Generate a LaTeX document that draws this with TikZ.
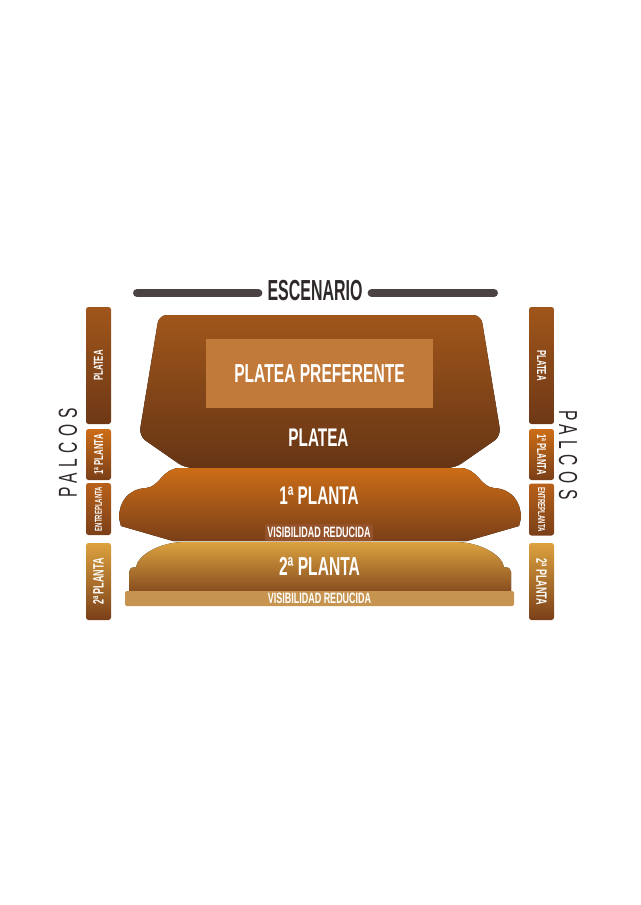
\documentclass[tikz,border=0pt]{standalone}
\usepackage{fontspec}
\usepackage{graphicx}
\newfontfamily\cond[FakeStretch=0.6]{Liberation Sans}
\newfontfamily\condesc[FakeStretch=0.55]{Liberation Sans}
\newfontfamily\palcosfont[FakeStretch=0.6,LetterSpace=21]{Liberation Sans}
\newcommand{\setsz}[1]{\fontsize{#1}{#1}\selectfont}

\definecolor{escgray}{HTML}{4B4343}
\definecolor{esctext}{HTML}{2E2828}
\definecolor{plateatop}{HTML}{A0561B}
\definecolor{plateamid}{HTML}{8A4A1A}
\definecolor{plateabot}{HTML}{663515}
\definecolor{prefcol}{HTML}{C27A3B}
\definecolor{plonetop}{HTML}{CC6D17}
\definecolor{plonemid}{HTML}{B45D18}
\definecolor{plonebot}{HTML}{7A3F18}
\definecolor{vronecol}{HTML}{94522A}
\definecolor{pltwotop}{HTML}{DCA23F}
\definecolor{pltwomid}{HTML}{CB8C35}
\definecolor{pltwobot}{HTML}{864D20}
\definecolor{vrtwocol}{HTML}{C6944F}
\definecolor{entretop}{HTML}{B8611A}
\definecolor{palcobot}{HTML}{6E3816}

\begin{document}
\begin{tikzpicture}[x=1pt, y=-1pt,
	every node/.style={font=\cond\bfseries, text=white, inner sep=0pt},
	stage/.style={line width=8pt, line cap=round, draw=escgray},
	palco/.style={rounded corners=2.5pt, minimum width=25pt},
	vrbox/.style={rounded corners=2pt, font=\cond\bfseries\setsz{15}}]
		\useasboundingbox (0,0) rectangle (640,905);
		
		\node[font=\condesc\bfseries\setsz{29}, text=esctext, inner xsep=9pt] (esc) at (315,291) {ESCENARIO};
		\coordinate (escL) at (137,293);
		\coordinate (escR) at (494,293);
		\draw[stage] (escL) -- (esc.west |- escL);
		\draw[stage] (esc.east |- escR) -- (escR);
		
		\fill[top color=plateatop, middle color=plateamid, bottom color=plateabot, rounded corners=8pt]
			(320,315) -- (481,315) -- (501,436) -- (455,468) -- (185,468) -- (139,436) -- (159,315) -- cycle;
		\node[fill=prefcol, minimum width=227pt, minimum height=69pt, font=\cond\bfseries\setsz{26}] (pref) at (319.5,373.5) {PLATEA PREFERENTE};
		\node[font=\cond\bfseries\setsz{25.5}] (platea) at (318.5,438) {PLATEA};
		
		\fill[top color=plonetop, middle color=plonemid, bottom color=plonebot]
			(320,468) -- (460,468) .. controls (478,468) and (480,487) .. (494,488)
			.. controls (512,489) and (521,502) .. (521,518) -- (519,526) -- (467,541)
			-- (173,541) -- (121,526) -- (119,518)
			.. controls (119,502) and (128,489) .. (146,488)
			.. controls (160,487) and (162,468) .. (180,468) -- cycle;
		\node[font=\cond\bfseries\setsz{25.5}] (plone) at (319,496) {1ª PLANTA};
		\node[vrbox, fill=vronecol, minimum width=108pt, minimum height=17pt] (vrone) at (319,532.5) {VISIBILIDAD REDUCIDA};
		
		\fill[top color=pltwotop, middle color=pltwomid, bottom color=pltwobot]
			(320,542) -- (455,542) .. controls (480,542) and (502,555) .. (504,567)
			-- (509,568) -- (511,572) -- (511,592) -- (129,592) -- (129,572) -- (131,568) -- (136,567)
			.. controls (138,555) and (160,542) .. (185,542) -- cycle;
		\node[font=\cond\bfseries\setsz{26}] (pltwo) at (319.5,566) {2ª PLANTA};
		\node[vrbox, fill=vrtwocol, minimum width=389pt, minimum height=15pt] (vrtwo) at (319.5,598.5) {VISIBILIDAD REDUCIDA};
		
		\node[palco, top color=plateatop, bottom color=palcobot, minimum height=117pt, font=\cond\bfseries\setsz{13}] (pLplatea) at (98.5,365.5) {\rotatebox{90}{PLATEA}};
		\node[palco, top color=plonetop, bottom color=plonebot, minimum height=51pt, font=\cond\bfseries\setsz{13}] (pLone) at (98.5,454.5) {\rotatebox{90}{1ª PLANTA}};
		\node[palco, top color=entretop, bottom color=plonebot, minimum height=52pt, font=\cond\bfseries\setsz{10}] (pLentre) at (98.5,509) {\rotatebox{90}{ENTREPLANTA}};
		\node[palco, top color=pltwotop, bottom color=plonebot, minimum height=77pt, font=\cond\bfseries\setsz{15}] (pLtwo) at (98.5,581.5) {\rotatebox{90}{2ª PLANTA}};
		
		\node[palco, top color=plateatop, bottom color=palcobot, minimum height=117pt, font=\cond\bfseries\setsz{13}] (pRplatea) at (541.5,365.5) {\rotatebox{-90}{PLATEA}};
		\node[palco, top color=plonetop, bottom color=plonebot, minimum height=51pt, font=\cond\bfseries\setsz{13}] (pRone) at (541.5,454.5) {\rotatebox{-90}{1ª PLANTA}};
		\node[palco, top color=entretop, bottom color=plonebot, minimum height=52pt, font=\cond\bfseries\setsz{10}] (pRentre) at (541.5,509.5) {\rotatebox{-90}{ENTREPLANTA}};
		\node[palco, top color=pltwotop, bottom color=plonebot, minimum height=77pt, font=\cond\bfseries\setsz{15}] (pRtwo) at (541.5,581.5) {\rotatebox{-90}{2ª PLANTA}};
		
		\node[font=\palcosfont\setsz{26}, text=esctext] (palcosL) at (68,453) {\rotatebox{90}{PALCOS}};
		\node[font=\palcosfont\setsz{26}, text=esctext] (palcosR) at (568,455) {\rotatebox{-90}{PALCOS}};
		
		\end{tikzpicture}
\end{document}
